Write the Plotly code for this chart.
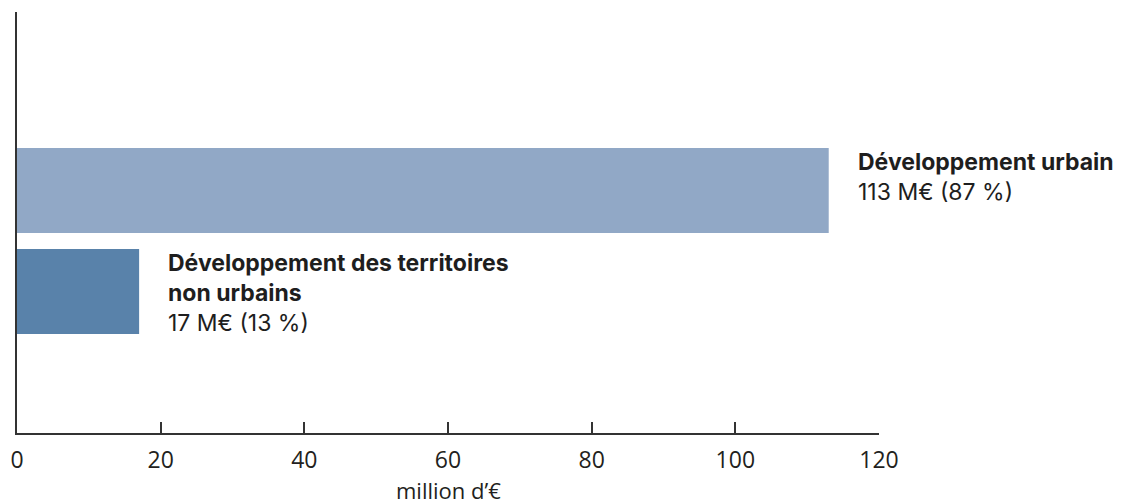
import plotly.graph_objects as go

categories = ["Développement des territoires non urbains", "Développement urbain"]
values = [17, 113]
label_titles = ["Développement des territoires<br>non urbains", "Développement urbain"]
label_values = ["17 M€ (13 %)", "113 M€ (87 %)"]
colors = ["#5982AA", "#91A8C6"]
tick_vals = [0, 20, 40, 60, 80, 100, 120]
tick_text = ["0", "20", "40", "60", "80", "100", "120"]
x_title = "million d’€"

fig = go.Figure()
fig.add_trace(go.Bar(
    x=values, y=categories, orientation="h",
    marker=dict(color=colors, line=dict(width=0)),
    hoverinfo="skip", showlegend=False,
))

for cat, v, t, lv in zip(categories, values, label_titles, label_values):
    fig.add_annotation(
        x=v, y=cat, xref="x", yref="y",
        text=f"<b>{t}</b><br>{lv}",
        showarrow=False, xanchor="left", yanchor="top", align="left",
        xshift=27, yshift=44,
        font=dict(family="Inter", size=23, color="#1e1e1e"),
    )

# axis title drawn as an annotation so it can sit at the bottom edge
fig.add_annotation(
    x=0.5, y=0, xref="paper", yref="paper",
    text=x_title, showarrow=False, xanchor="center", yanchor="middle",
    yshift=-57, borderpad=0,
    font=dict(family="Open Sans", size=22, color="#231f20"),
)

# page body has an 8px default margin: the figure is sized/offset to compensate
fig.update_layout(
    width=1115, height=495,
    margin=dict(l=9, r=244, t=4, b=70),
    paper_bgcolor="white", plot_bgcolor="white",
    bargap=0.16,
    font=dict(family="Open Sans", size=22, color="#231f20"),
)
fig.update_xaxes(
    range=[0, 120], tickvals=tick_vals, ticktext=tick_text,
    ticks="inside", ticklen=11, tickwidth=2, tickcolor="#333333",
    showline=True, linecolor="#333333", linewidth=2,
    showgrid=False, zeroline=False, automargin=False,
    ticklabelstandoff=5,
    tickfont=dict(family="Open Sans", size=23, color="#231f20"),
)
fig.update_yaxes(
    categoryorder="array", categoryarray=categories,
    range=[-1.401, 2.767], automargin=False,
    showticklabels=False, ticks="",
    showline=True, linecolor="#333333", linewidth=2,
    showgrid=False, zeroline=False,
)

fig.write_html("out.html")
